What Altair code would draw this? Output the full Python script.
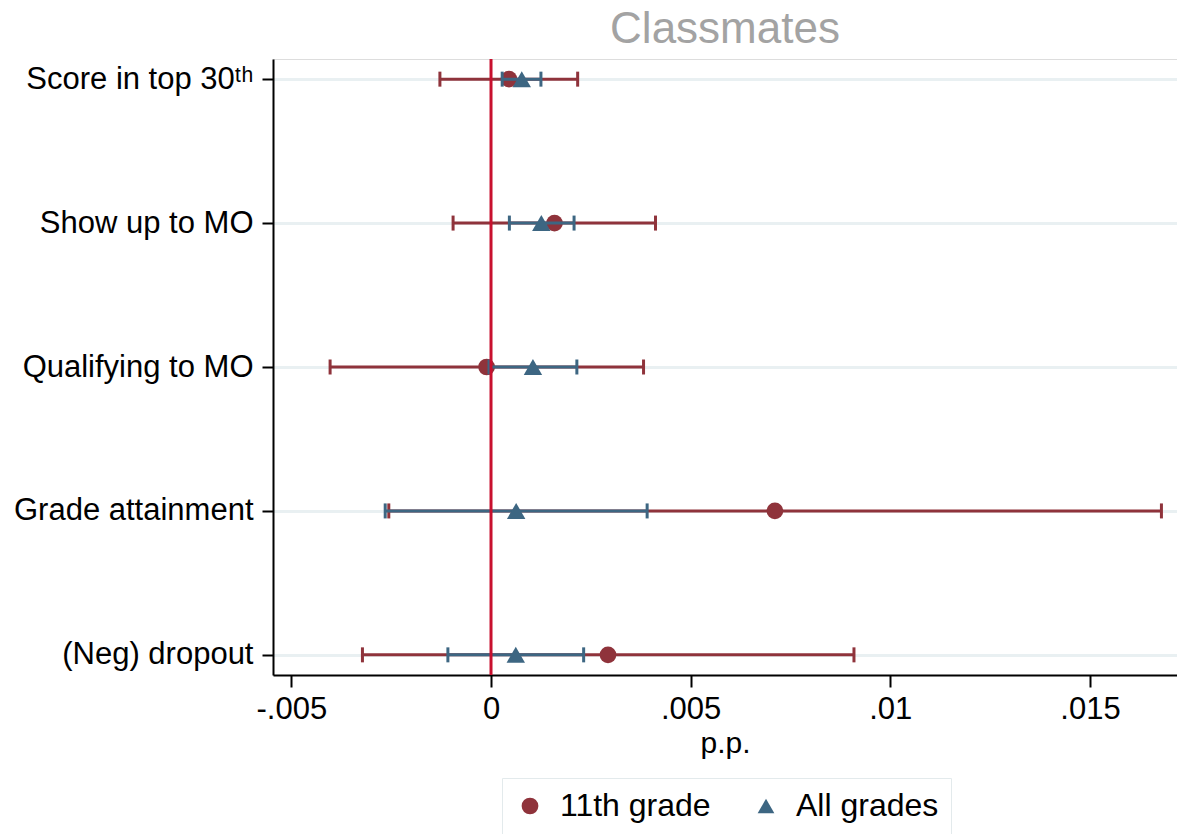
import altair as alt
import pandas as pd

# ---- data ----
categories = ["Score in top 30ᵗʰ", "Show up to MO", "Qualifying to MO",
              "Grade attainment", "(Neg) dropout"]
series_names = ["11th grade", "All grades"]

g11_est = [0.00045, 0.00159, -0.00011, 0.00711, 0.00293]
g11_lo = [-0.00128, -0.00095, -0.00403, -0.00256, -0.00322]
g11_hi = [0.00217, 0.00412, 0.00382, 0.01679, 0.00909]

all_est = [0.00077, 0.00126, 0.00105, 0.00063, 0.00062]
all_lo = [0.00028, 0.00046, -0.00005, -0.00265, -0.00108]
all_hi = [0.00125, 0.00208, 0.00215, 0.00391, 0.00232]

x_ticks = [-0.005, 0, 0.005, 0.01, 0.015]
x_domain = [-0.00546, 0.01718]
zero_line = [0.0]

RED = "#8f333b"
BLUE = "#3d6682"
FONT = "Liberation Sans"

df11 = pd.DataFrame({"cat": categories, "est": g11_est, "lo": g11_lo,
                     "hi": g11_hi, "series": series_names[0]})
dfall = pd.DataFrame({"cat": categories, "est": all_est, "lo": all_lo,
                      "hi": all_hi, "series": series_names[1]})
dfzero = pd.DataFrame({"x": zero_line})

xscale = alt.Scale(domain=x_domain, nice=False, zero=False)
yscale = alt.Scale(type="point", padding=0.14, domain=categories)

xaxis = alt.Axis(values=x_ticks, labelExpr="replace(toString(datum.value), '0.', '.')",
                 title="p.p.", grid=False, domainColor="black", domainWidth=2,
                 tickColor="black", tickWidth=2, tickSize=12, labelPadding=7,
                 labelFontSize=31, labelFont=FONT, labelColor="black",
                 titleFontSize=30, titleFont=FONT, titleFontWeight="normal",
                 titleColor="black", titlePadding=4)
yaxis = alt.Axis(title=None, grid=True, gridColor="#e9f0f2", gridWidth=3,
                 domainColor="black", domainWidth=2, tickColor="black",
                 tickWidth=2, tickSize=11, labelPadding=9, labelFontSize=31,
                 labelFont=FONT, labelColor="black", labelLimit=0)

color_scale = alt.Scale(domain=series_names, range=[RED, BLUE])
shape_scale = alt.Scale(domain=series_names, range=["circle", "triangle-up"])
legend = alt.Legend(title=None, orient="none", legendX=229, legendY=719,
                    direction="horizontal", strokeColor="#e3eaec", padding=12,
                    labelFontSize=32, labelFont=FONT, labelColor="black",
                    symbolSize=280, labelOffset=14, columnPadding=39,
                    symbolStrokeWidth=0)


def series_layers(df, size, col):
    base = alt.Chart(df)
    rule = base.mark_rule(strokeWidth=3, color=col).encode(
        x=alt.X("lo:Q", scale=xscale, axis=xaxis),
        x2="hi:Q",
        y=alt.Y("cat:N", scale=yscale, axis=yaxis, sort=categories),
    )
    cap_lo = base.mark_tick(thickness=3, size=15, opacity=1, color=col).encode(
        x="lo:Q", y=alt.Y("cat:N", sort=categories))
    cap_hi = base.mark_tick(thickness=3, size=15, opacity=1, color=col).encode(
        x="hi:Q", y=alt.Y("cat:N", sort=categories))
    pts = base.mark_point(filled=True, opacity=1, size=size).encode(
        x="est:Q", y=alt.Y("cat:N", sort=categories),
        color=alt.Color("series:N", scale=color_scale, legend=legend),
        shape=alt.Shape("series:N", scale=shape_scale, legend=legend),
    )
    return [rule, cap_lo, cap_hi, pts]


zero = alt.Chart(dfzero).mark_rule(color="#c8102e", strokeWidth=3).encode(
    x=alt.X("x:Q", scale=xscale))

chart = alt.layer(*series_layers(df11, 280, RED), *series_layers(dfall, 340, BLUE), zero).properties(
    width=904, height=616,
    title=alt.TitleParams("Classmates", fontSize=44, font=FONT, color="#a3a3a3",
                          fontWeight="normal", anchor="middle", offset=6),
    autosize=alt.AutoSizeParams(type="none"),
    padding={"left": 273, "top": 59, "right": 0, "bottom": 159},
).configure_view(stroke=None).configure(background="white")

chart.save("out.html", embed_options={"renderer": "svg", "actions": False})
